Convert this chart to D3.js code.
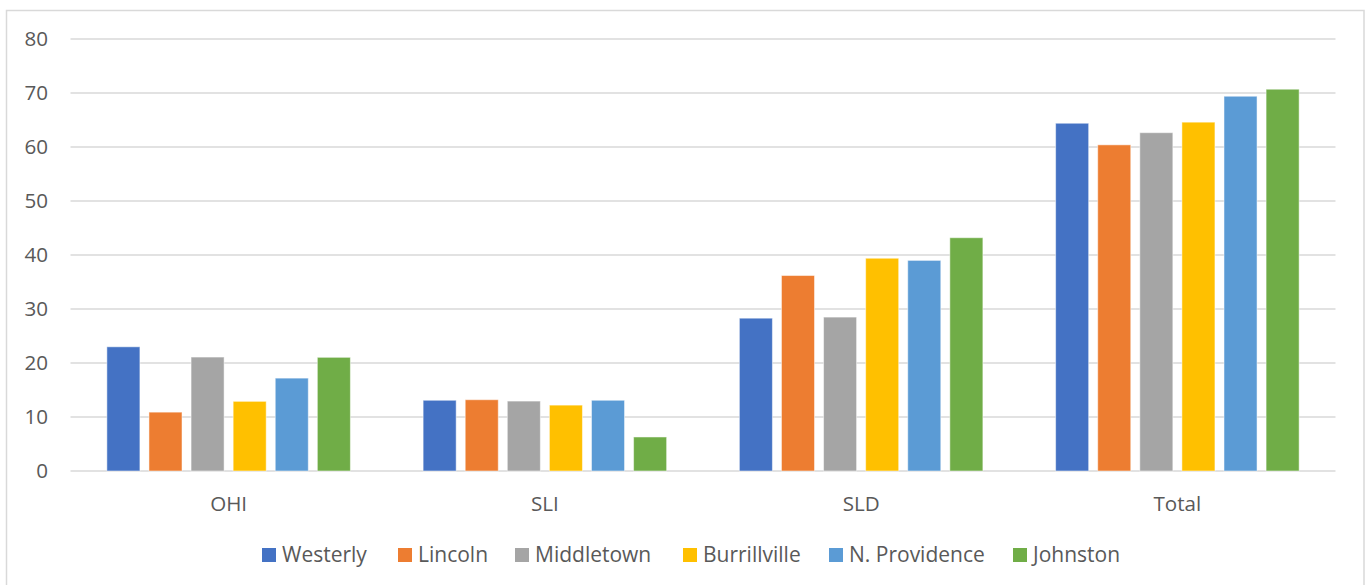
<!DOCTYPE html>
<html>
<head>
<meta charset="utf-8">
<script src="https://cdn.jsdelivr.net/npm/d3@7"></script>
<style>
  html, body { margin: 0; padding: 0; background: #ffffff; }
  svg { display: block; font-family: "Open Sans", "Liberation Sans", sans-serif; }
</style>
</head>
<body>
<svg id="chart" width="1369" height="585"></svg>
<script>
// Disability categories along the x axis
const categories = ["OHI", "SLI", "SLD", "Total"];

// Districts (one bar per district within each category)
const districts = ["Westerly", "Lincoln", "Middletown", "Burrillville", "N. Providence", "Johnston"];

// Values per district, in category order OHI, SLI, SLD, Total
const westerly     = [23.0, 13.1, 28.3, 64.4];
const lincoln      = [10.9, 13.2, 36.2, 60.4];
const middletown   = [21.1, 12.95, 28.5, 62.65];
const burrillville = [12.9, 12.2, 39.4, 64.6];
const nProvidence  = [17.2, 13.1, 39.0, 69.4];
const johnston     = [21.05, 6.3, 43.2, 70.7];

// Y axis tick values
const yTicks = [0, 10, 20, 30, 40, 50, 60, 70, 80];

const seriesValues = [westerly, lincoln, middletown, burrillville, nProvidence, johnston];
const colors = ["#4472c4", "#ed7d31", "#a5a5a5", "#ffc000", "#5b9bd5", "#70ad47"];

const svg = d3.select("#chart");
const textColor = "#595959";
const gridColor = "#d9d9d9";
const fontSize = 20.6;

// Outer chart frame
svg.append("rect")
  .attr("x", 6.5).attr("y", 10.5)
  .attr("width", 1357.5).attr("height", 590)
  .attr("fill", "none")
  .attr("stroke", gridColor)
  .attr("stroke-width", 1.5);

const plot = { left: 70.5, right: 1335.5, top: 39, bottom: 471 };

const x0 = d3.scaleBand()
  .domain(categories)
  .range([plot.left, plot.right])
  .padding(0);

const x1 = d3.scaleBand()
  .domain(districts)
  .range([0, x0.bandwidth()])
  .paddingInner(0.215)
  .paddingOuter(0.864);

const y = d3.scaleLinear()
  .domain([0, 80])
  .range([plot.bottom, plot.top]);

// Horizontal gridlines
svg.append("g")
  .selectAll("line")
  .data(yTicks)
  .join("line")
  .attr("x1", plot.left)
  .attr("x2", plot.right)
  .attr("y1", d => y(d))
  .attr("y2", d => y(d))
  .attr("stroke", gridColor)
  .attr("stroke-width", 1.6);

// Y axis labels
const yAxis = d3.axisLeft(y).tickValues(yTicks).tickSize(0).tickPadding(0);
const yG = svg.append("g")
  .attr("transform", `translate(48,0)`)
  .call(yAxis);
yG.select(".domain").remove();
yG.selectAll("text")
  .attr("fill", textColor)
  .attr("font-size", fontSize)
  .attr("font-family", "'Open Sans', sans-serif");

// Bars
const rows = [];
categories.forEach((c, ci) => {
  districts.forEach((d, di) => {
    rows.push({ category: c, district: d, value: seriesValues[di][ci], color: colors[di] });
  });
});

svg.append("g")
  .selectAll("rect")
  .data(rows)
  .join("rect")
  .attr("x", d => x0(d.category) + x1(d.district))
  .attr("y", d => y(d.value))
  .attr("width", x1.bandwidth())
  .attr("height", d => y(0) - y(d.value))
  .attr("fill", d => d.color)
  .attr("stroke", "#ffffff")
  .attr("stroke-opacity", 0.5)
  .attr("stroke-width", 1);

// X axis category labels
const xAxis = d3.axisBottom(x0).tickSize(0).tickPadding(0);
const xG = svg.append("g")
  .attr("transform", `translate(0,${plot.bottom})`)
  .call(xAxis);
xG.select(".domain").remove();
xG.selectAll("text")
  .attr("fill", textColor)
  .attr("font-size", fontSize)
  .attr("font-family", "'Open Sans', sans-serif")
  .attr("dy", null)
  .attr("y", 40);

// Legend
const legendX = [262, 398, 515, 683, 829, 1013];
const legend = svg.append("g")
  .selectAll("g")
  .data(districts)
  .join("g")
  .attr("transform", (d, i) => `translate(${legendX[i]},548)`);

legend.append("rect")
  .attr("width", 14).attr("height", 14)
  .attr("fill", (d, i) => colors[i]);

legend.append("text")
  .attr("x", 20)
  .attr("y", 14)
  .attr("fill", textColor)
  .attr("font-size", 21)
  .text(d => d);
</script>
</body>
</html>
